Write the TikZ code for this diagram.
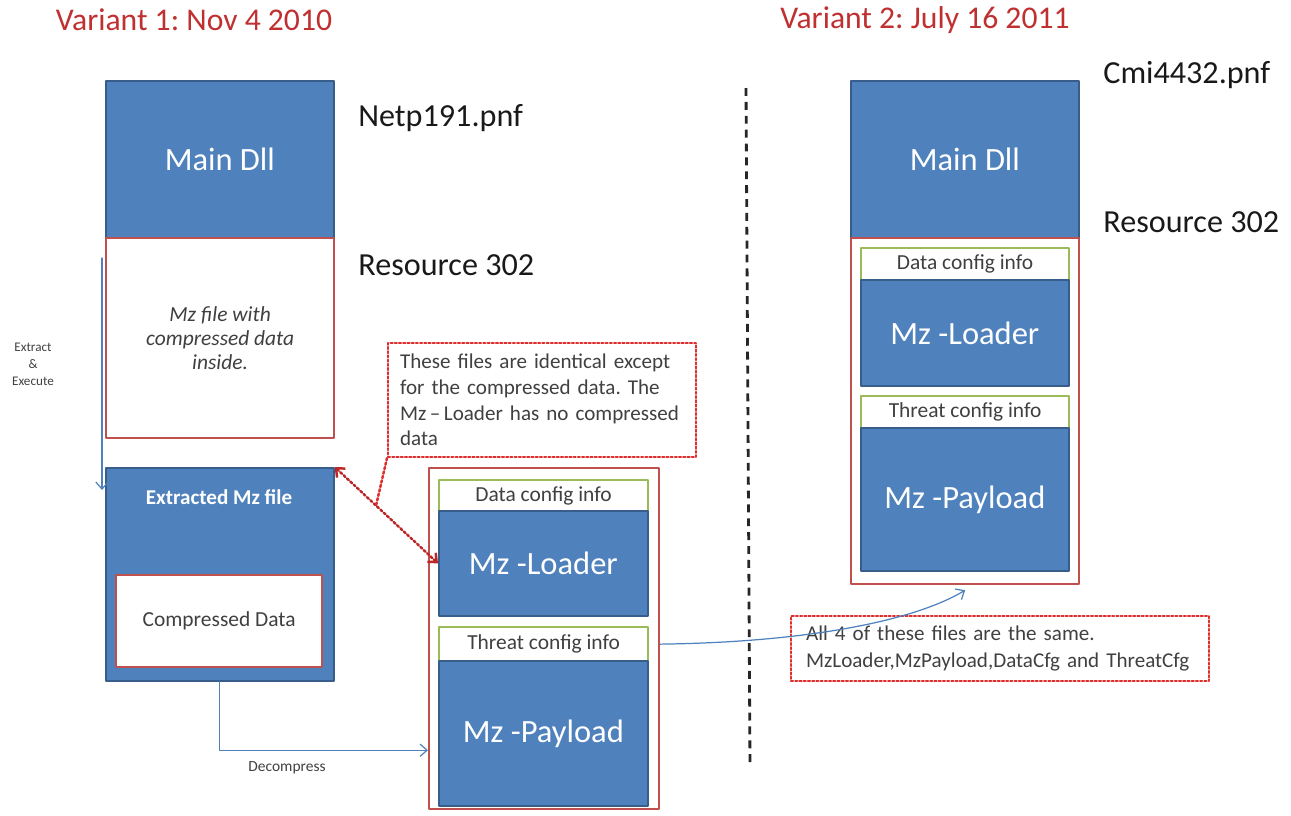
\documentclass[tikz,border=0pt]{standalone}
\usepackage{fontspec}
\setmainfont{Carlito}
\usetikzlibrary{arrows.meta}
\usetikzlibrary{calc}
\definecolor{boxblue}{RGB}{79,129,189}
\definecolor{boxedge}{RGB}{56,93,138}
\definecolor{resred}{RGB}{192,80,77}
\definecolor{cfggreen}{RGB}{155,187,89}
\definecolor{titlered}{RGB}{192,48,48}
\definecolor{notered}{RGB}{222,45,45}
\definecolor{textgray}{RGB}{64,64,64}

\tikzset{
	bluebox/.style={draw=boxedge, line width=1pt, fill=boxblue, text=white, inner sep=0pt, anchor=north west, minimum width=4.56cm},
	redbox/.style={draw=resred, line width=1.3pt, fill=white, text=textgray, inner sep=0pt, anchor=north west, minimum width=4.56cm},
	cfgbox/.style={draw=cfggreen, line width=1.3pt, fill=white, text=textgray, inner sep=0pt, anchor=north west, font=\fontsize{12.2}{14}\selectfont},
	notebox/.style={draw=notered, line width=1.2pt, dash pattern=on 1.2pt off 1.2pt, text=textgray, inner sep=0pt, anchor=north west, align=left},
	bigtxt/.style={font=\fontsize{18.5}{21}\selectfont},
	title/.style={text=titlered, font=\fontsize{18}{21}\selectfont},
	fname/.style={text=black!90, anchor=west, inner xsep=0pt, font=\fontsize{18.3}{21}\selectfont},
	flow/.style={draw=boxblue, line width=0.7pt, -{Straight Barb[length=4pt,width=7pt]}},
	linkred/.style={draw=notered!85!black, line width=1.4pt, dash pattern=on 1.3pt off 1.3pt, {Straight Barb[length=4pt,width=7pt]}-{Straight Barb[length=4pt,width=7pt]}},
	pointred/.style={draw=notered, line width=1.4pt, dash pattern=on 1.3pt off 1.3pt},
	sepline/.style={draw=black!85, line width=1.6pt, line cap=butt, dash pattern=on 4.5pt off 3.4pt}
}

\begin{document}
\frenchspacing
\begin{tikzpicture}[line cap=round,line join=round, x=0.02cm,y=-0.02cm]
	\useasboundingbox (0,0) rectangle (1291,815);
	\node[title] (vone) at (194,20) {Variant 1: Nov 4 2010};
	\node[title] (vtwo) at (925,20) {Variant 2: July 16 2011};
	\node[bluebox, minimum height=3.14cm, bigtxt] (lmain) at (105,80) {Main Dll};
	\node[redbox, minimum height=4cm, align=center, font=\fontsize{12.2}{13.9}\selectfont\itshape] (lres) at (105,237) {Mz file with\\compressed data\\inside.};
	\node[fname] (lfile) at (358,118) {Netp191.pnf};
	\node[fname] (lresname) at (358,265) {Resource 302};
	\node[bluebox, minimum height=4.26cm] (ext) at (105,467) {};
	\node[text=white, font=\fontsize{12}{14}\selectfont\bfseries] (extlbl) at (219,497) {Extracted Mz file};
	\node[redbox, minimum width=4.12cm, minimum height=1.84cm, font=\fontsize{12.2}{14}\selectfont] (cmp) at (115,574) {Compressed Data};
	\node[text=textgray, align=center, font=\fontsize{7.5}{9.6}\selectfont] (extract) at (33,364) {Extract\\\&\\Execute};
	\node[redbox, minimum width=4.6cm, minimum height=6.82cm] (lcont) at (428,467) {};
	\node[cfgbox, minimum width=4.18cm, minimum height=0.62cm] (ldata) at (438,479) {Data config info};
	\node[bluebox, minimum width=4.18cm, minimum height=2.1cm, bigtxt] (lload) at (438,510) {Mz -Loader};
	\node[cfgbox, minimum width=4.18cm, minimum height=0.68cm] (lthreat) at (438,626) {Threat config info};
	\node[bluebox, minimum width=4.18cm, minimum height=2.9cm, bigtxt] (lpay) at (438,660) {Mz -Payload};
	\node[text=textgray, font=\fontsize{8.8}{10}\selectfont] (declbl) at (287,768) {Decompress};
	\node[notebox, minimum width=6.16cm, minimum height=2.28cm, text width=5.68cm, font=\fontsize{12}{14.6}\selectfont] (idnote) at (387,342) {These files are identical except\\for the compressed data. The\\Mz\,--\,Loader has no compressed\\data};
	\node[bluebox, minimum height=3.14cm, bigtxt] (rmain) at (850,80) {Main Dll};
	\node[fname] (rfile) at (1103,75) {Cmi4432.pnf};
	\node[fname] (rresname) at (1103,222) {Resource 302};
	\node[redbox, minimum height=6.92cm] (rcont) at (850,237) {};
	\node[cfgbox, minimum width=4.16cm, minimum height=0.64cm] (rdata) at (860,247) {Data config info};
	\node[bluebox, minimum width=4.16cm, minimum height=2.12cm, bigtxt] (rload) at (860,279) {Mz -Loader};
	\node[cfgbox, minimum width=4.16cm, minimum height=0.64cm] (rthreat) at (860,395) {Threat config info};
	\node[bluebox, minimum width=4.16cm, minimum height=2.86cm, bigtxt] (rpay) at (860,427) {Mz -Payload};
	\node[notebox, minimum width=8.36cm, minimum height=1.3cm, text width=7.76cm, font=\fontsize{12}{15.3}\selectfont] (samenote) at (790,615) {All 4 of these files are the same.\\MzLoader,MzPayload,DataCfg and ThreatCfg};
	\coordinate (exfrom) at (102,258);
	\coordinate (exto) at (102,490);
	\coordinate (sept) at (746,88);
	\coordinate (sepb) at (750,765);
	\draw[sepline] (sept) -- (sepb);
	\draw[flow] (exfrom) -- (exto);
	\draw[flow] (ext.south) |- ([yshift=1.2cm]lcont.south west);
	\draw[linkred] (ext.north east) -- (lload.west);
	\draw[pointred] (idnote.south west) -- ($(ext.north east)!0.4!(lload.west)$);
	\draw[flow] (lcont.east |- lthreat.center) .. controls +(150,-2) and +(-50,30) .. ([yshift=-0.1cm]rcont.south);
\end{tikzpicture}
\end{document}
